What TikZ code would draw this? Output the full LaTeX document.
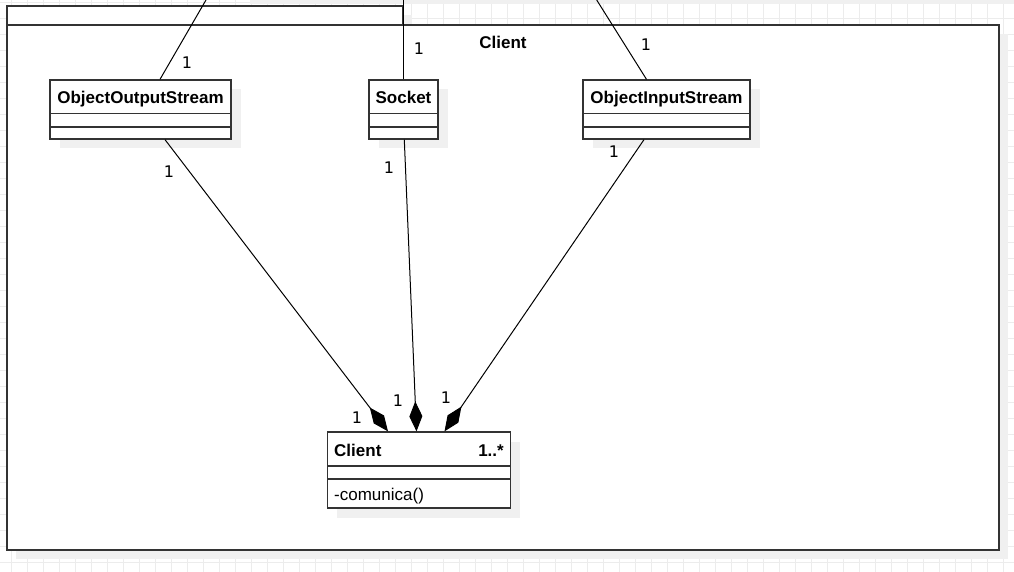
\documentclass[tikz,border=0pt]{standalone}
\usepackage{fontspec}
\setmainfont{Liberation Sans}
\newfontfamily\labfont{DejaVu Sans}
\usetikzlibrary{arrows.meta}
\definecolor{gridc}{RGB}{236,236,236}
\definecolor{shadc}{RGB}{240,240,240}
\definecolor{linec}{RGB}{51,51,51}
\begin{document}
\begin{tikzpicture}[x=1pt,y=-1pt,
  classbox/.style={draw=linec, line width=1.3pt, fill=white, inner sep=0pt},
  sep/.style={draw=linec, line width=1.3pt},
  pkgbox/.style={draw=linec, line width=1.6pt, fill=white, inner sep=0pt},
  title/.style={font=\fontsize{17}{20}\selectfont\bfseries, inner sep=0pt},
  member/.style={font=\fontsize{17}{20}\selectfont, inner sep=0pt},
  mult/.style={font=\labfont\fontsize{16}{19}\selectfont, inner sep=0pt, anchor=base},
  conn/.style={draw=black, line width=1pt},
  comp/.style={conn, -{Diamond[length=30pt,width=13pt]}},
  shad/.style={fill=shadc}]
\useasboundingbox (0,0) rectangle (1014,572);
\clip (0,0) rectangle (1014,572);
\fill[white] (0,0) rectangle (1014,572);
% grid
\foreach \x in {11,27,...,1014} \draw[gridc, line width=0.8pt] (\x,0) -- (\x,572);
\foreach \y in {2,18,...,572} \draw[gridc, line width=0.8pt] (0,\y) -- (1014,\y);
\fill[shad] (250,0) rectangle (1014,4);
% package
\fill[shad] (16,15) rectangle (412,34);
\fill[shad] (16,34) rectangle (1008,559);
\node[pkgbox, minimum width=396pt, minimum height=19pt] (pkgtab) at (205,15.5) {};
\node[pkgbox, minimum width=992pt, minimum height=525pt] (pkg) at (503,287.5) {};
\node[title, anchor=base] (pkgname) at (503,48.3) {Client};
% free ends of the connectors leaving the picture at the top
\coordinate (oosUp) at (206,0);
\coordinate (sockUp) at (403,0);
\coordinate (oisUp) at (596.7,0);
% shadows of classes
\fill[shad] (60,89) rectangle (241,148);
\fill[shad] (379,89) rectangle (448,148);
\fill[shad] (593,89) rectangle (760,148);
\fill[shad] (337,442) rectangle (520,518);
% classes
\node[classbox, minimum width=181pt, minimum height=59pt] (oos) at (140.5,109.5) {};
\draw[sep] (50,113.5) -- (231,113.5);
\draw[sep] (50,127) -- (231,127);
\node[title, anchor=base] (oost) at (140.5,103.5) {ObjectOutputStream};

\node[classbox, minimum width=69pt, minimum height=59pt] (sock) at (403.5,109.5) {};
\draw[sep] (369,113.5) -- (438,113.5);
\draw[sep] (369,127) -- (438,127);
\node[title, anchor=base] (sockt) at (403.5,103.5) {Socket};

\node[classbox, minimum width=167pt, minimum height=59pt] (ois) at (666.5,109.5) {};
\draw[sep] (583,113.5) -- (750,113.5);
\draw[sep] (583,127) -- (750,127);
\node[title, anchor=base] (oist) at (666.5,103.5) {ObjectInputStream};

\node[classbox, minimum width=183.4pt, minimum height=76pt] (cl) at (419,470) {};
\draw[sep] (327.3,466) -- (510.7,466);
\draw[sep] (327.3,479) -- (510.7,479);
\node[title, anchor=base west] (clt) at (334,456) {Client};
\node[title, anchor=base east] (clm) at (504,456) {1..*};
\node[member, anchor=base west] (clop) at (334,500) {-comunica()};
% connectors
\draw[conn] ([xshift=19.5pt]oos.north) -- (oosUp);
\draw[conn] ([xshift=-0.5pt]sock.north) -- (sockUp);
\draw[conn] ([xshift=-20pt]ois.north) -- (oisUp);
\draw[comp] ([xshift=24.5pt]oos.south) -- ([xshift=-31pt]cl.north);
\draw[comp] ([xshift=0.8pt]sock.south) -- ([xshift=-2.5pt]cl.north);
\draw[comp] ([xshift=-22.5pt]ois.south) -- ([xshift=25.5pt]cl.north);
% multiplicities
\node[mult] (m1) at (187,68.3) {1};
\node[mult] (m2) at (419,55) {1};
\node[mult] (m3) at (646,50.7) {1};
\node[mult] (m4) at (169,177.7) {1};
\node[mult] (m5) at (389,174) {1};
\node[mult] (m6) at (614,158) {1};
\node[mult] (m7) at (357,423.3) {1};
\node[mult] (m8) at (398,406.7) {1};
\node[mult] (m9) at (446,403.3) {1};
\end{tikzpicture}
\end{document}
